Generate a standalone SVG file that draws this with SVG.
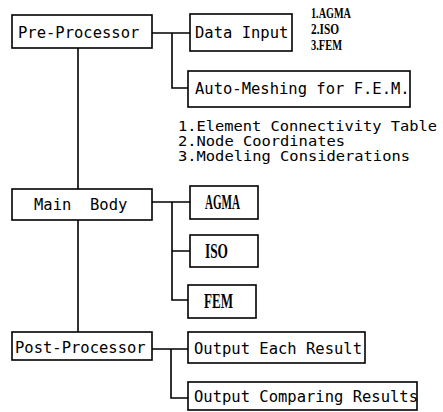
<svg xmlns="http://www.w3.org/2000/svg" width="443" height="412" viewBox="0 0 443 412">
<style>
rect { fill: #fff; stroke: #000; stroke-width: 1.6; }
.c { fill: none; stroke: #000; stroke-width: 1.6; }
.m { font-family: "DejaVu Sans Mono", "Liberation Mono", monospace; font-size: 15.5px; fill: #000; }
.n { font-family: "DejaVu Sans Mono", "Liberation Mono", monospace; font-size: 14.5px; fill: #000; }
.b { font-family: "Liberation Serif", "Times New Roman", serif; font-weight: bold; font-size: 14px; fill: #000; }
</style>
<rect x="0" y="0" width="443" height="412" style="fill:#fff;stroke:none"/>
<g id="connectors">
  <path class="c" d="M78 48 V189 M78 220 V332"/>
  <path class="c" d="M152 33 H190 M172 33 V88 H188"/>
  <path class="c" d="M152 202 H190 M172 202 V300 H188 M172 251 H190"/>
  <path class="c" d="M152 349 H188 M171 349 V398 H188"/>
</g>
<g id="pre-processor">
  <rect x="12" y="15" width="140" height="33"/>
  <text class="m" x="18" y="38">Pre-Processor</text>
</g>
<g id="data-input">
  <rect x="190" y="14" width="102" height="37"/>
  <text class="m" x="195" y="38">Data Input</text>
</g>
<g id="data-input-notes">
  <text class="b" x="311" y="18" textLength="40" lengthAdjust="spacingAndGlyphs">1.AGMA</text>
  <text class="b" x="311" y="34" textLength="28" lengthAdjust="spacingAndGlyphs">2.ISO</text>
  <text class="b" x="311" y="50" textLength="31" lengthAdjust="spacingAndGlyphs">3.FEM</text>
</g>
<g id="auto-meshing">
  <rect x="188" y="71" width="222" height="36"/>
  <text class="m" x="195" y="94">Auto-Meshing for F.E.M.</text>
</g>
<g id="auto-meshing-notes">
  <text class="n" x="178" y="131" textLength="259" lengthAdjust="spacingAndGlyphs">1.Element Connectivity Table</text>
  <text class="n" x="178" y="146" textLength="167" lengthAdjust="spacingAndGlyphs">2.Node Coordinates</text>
  <text class="n" x="178" y="161" textLength="232" lengthAdjust="spacingAndGlyphs">3.Modeling Considerations</text>
</g>
<g id="main-body">
  <rect x="12" y="189" width="140" height="31"/>
  <text class="m" x="34" y="210" xml:space="preserve">Main  Body</text>
</g>
<g id="agma">
  <rect x="190" y="186" width="68" height="33"/>
  <text class="b" x="205" y="209" style="font-size:20px" textLength="35" lengthAdjust="spacingAndGlyphs">AGMA</text>
</g>
<g id="iso">
  <rect x="190" y="235" width="68" height="32"/>
  <text class="b" x="205" y="258" style="font-size:20px" textLength="23" lengthAdjust="spacingAndGlyphs">ISO</text>
</g>
<g id="fem">
  <rect x="188" y="285" width="68" height="33"/>
  <text class="b" x="204" y="308" style="font-size:20px" textLength="29" lengthAdjust="spacingAndGlyphs">FEM</text>
</g>
<g id="post-processor">
  <rect x="12" y="332" width="140" height="28"/>
  <text class="m" x="15" y="353">Post-Processor</text>
</g>
<g id="output-each">
  <rect x="188" y="332" width="177" height="31"/>
  <text class="m" x="194" y="354">Output Each Result</text>
</g>
<g id="output-comparing">
  <rect x="188" y="382" width="229" height="28"/>
  <text class="m" x="194" y="402">Output Comparing Results</text>
</g>
</svg>
